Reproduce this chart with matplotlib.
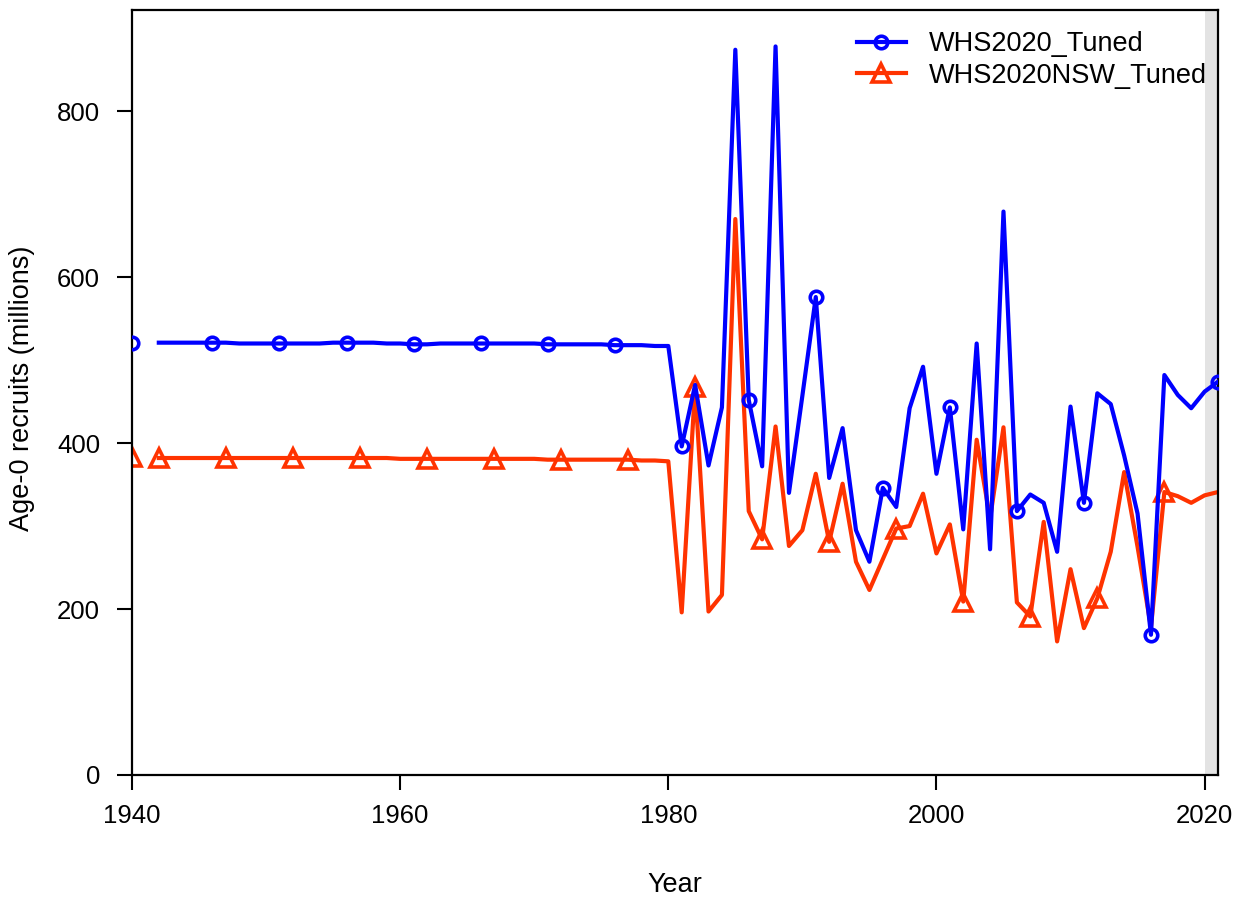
import matplotlib
matplotlib.use("Agg")
import matplotlib.pyplot as plt
import numpy as np

plt.rcParams['font.family'] = ['Liberation Sans', 'DejaVu Sans']

# Recruitment time series (millions of age-0 fish)
virgin_year = 1940
years = np.arange(1942, 2022)

tuned_virgin = 521
tuned_recruits = [
    521, 521, 521, 521, 521, 521, 520, 520, 520, 520,   # 1942-1951
    520, 520, 520, 521, 521, 521, 521, 520, 520, 519,   # 1952-1961
    519, 520, 520, 520, 520, 520, 520, 520, 520, 519,   # 1962-1971
    519, 519, 519, 519, 518, 518, 518, 517, 517,        # 1972-1980
    396, 470, 373, 443, 874, 452, 372, 878, 340, 457,   # 1981-1990
    576, 358, 418, 295, 257, 346, 323, 442, 492, 363,   # 1991-2000
    443, 296, 520, 272, 679, 318, 338, 328, 269, 444,   # 2001-2010
    328, 460, 447, 385, 315, 169, 482, 458, 442, 462,   # 2011-2020
    474,                                                # 2021
]

nsw_virgin = 383
nsw_recruits = [
    382, 382, 382, 382, 382, 382, 382, 382, 382, 382,   # 1942-1951
    382, 382, 382, 382, 382, 382, 382, 382, 381, 381,   # 1952-1961
    381, 381, 381, 381, 381, 381, 381, 381, 381, 380,   # 1962-1971
    380, 380, 380, 380, 380, 380, 379, 379, 378,        # 1972-1980
    196, 468, 197, 217, 670, 318, 284, 420, 276, 295,   # 1981-1990
    363, 281, 351, 257, 223, 260, 297, 300, 339, 267,   # 1991-2000
    302, 209, 404, 309, 419, 208, 191, 305, 161, 248,   # 2001-2010
    177, 213, 269, 365, 275, 178, 341, 336, 328, 337,   # 2011-2020
    341,                                                # 2021
]

model_names = ['WHS2020_Tuned', 'WHS2020NSW_Tuned']
forecast_start, forecast_end = 2020, 2021

blue = '#0000FF'
red = '#FF3300'

fig = plt.figure(figsize=(12.45, 9.02), dpi=100)
ax = fig.add_axes([132 / 1245, 1 - 775 / 902, (1218 - 132) / 1245, (775 - 10) / 902])

# forecast period shading
ax.axvspan(forecast_start, forecast_end, color='#E3E3E3', lw=0, zorder=0)

# points staggered every 5 years so the two series don't overlap
blue_marks = [i for i, y in enumerate(years) if (y - 1941) % 5 == 0]
red_marks = [i for i, y in enumerate(years) if (y - 1942) % 5 == 0]

circ = dict(color=blue, marker='o', ms=9, mfc='none', mew=2.6)
tri = dict(color=red, marker='^', ms=13, mfc='none', mew=2.6)

ax.plot(years, tuned_recruits, lw=3, markevery=blue_marks,
        label=model_names[0], zorder=3, **circ)
ax.plot(years, nsw_recruits, lw=3, markevery=red_marks,
        label=model_names[1], zorder=2, **tri)

# unfished (virgin) recruitment shown as lone points
ax.plot([virgin_year], [tuned_virgin], ls='none', zorder=3, **circ)
ax.plot([virgin_year], [nsw_virgin], ls='none', zorder=2, **tri)

ymax = 1.05 * max(max(tuned_recruits), max(nsw_recruits))
ax.set_xlim(1940, 2021)
ax.set_ylim(0, ymax)

ax.set_xticks([1940, 1960, 1980, 2000, 2020])
ax.set_yticks([0, 200, 400, 600, 800])
ax.tick_params(axis='both', direction='out', length=11, width=1.5,
               labelsize=18.5, colors='black')
ax.tick_params(axis='x', pad=10)
ax.tick_params(axis='y', pad=12)
for s in ax.spines.values():
    s.set_linewidth(1.6)

fig.text(675 / 1245, 1 - 885 / 902, 'Year', ha='center', va='center', fontsize=19.5)
fig.text(22 / 1245, 1 - 388 / 902, 'Age-0 recruits (millions)', ha='center',
         va='center', rotation=90, fontsize=19.5)

leg = ax.legend(loc='upper left', bbox_to_anchor=(857 / 1245, 1 - 31 / 902),
                bbox_transform=fig.transFigure, frameon=False, fontsize=19.5,
                handlelength=1.8, handletextpad=0.85, labelspacing=0.22,
                borderpad=0, borderaxespad=0)

fig.savefig('out.png', dpi=100)
